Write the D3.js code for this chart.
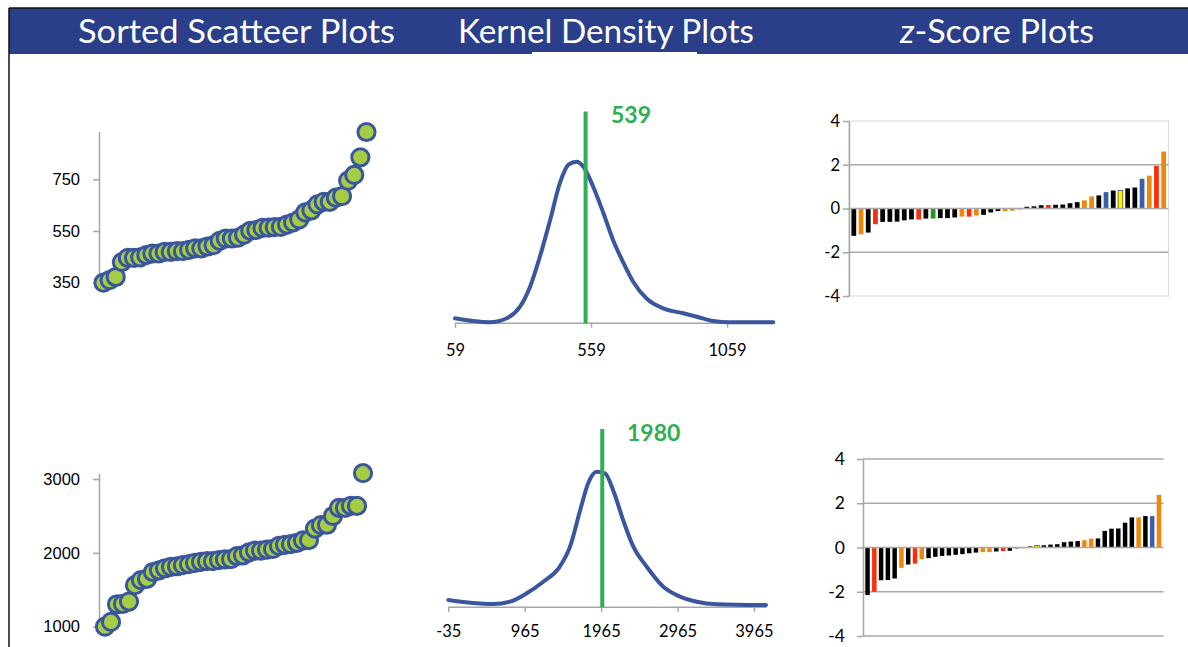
<!DOCTYPE html>
<html>
<head>
<meta charset="utf-8">
<script src="https://cdn.jsdelivr.net/npm/d3@7"></script>
<style>
  body { margin: 0; background: #fff; }
  svg { display: block; }
</style>
</head>
<body>
<svg id="chart" width="1188" height="647"></svg>
<script>
// header titles and where they sit (left edge, width)
const titles = ["Sorted Scatteer Plots", "Kernel Density Plots", "z-Score Plots"];

// sorted scatter values (top = first variable, bottom = second)
const scatterTop = [350,360,372,430,446,446,448,457,463,463,469,469,472,472,477,483,483,490,495,512,
  521,521,524,536,551,554,562,563,565,566,575,583,595,622,630,653,663,663,679,685,745,767,835,933];
const scatterBot = [1000,1065,1304,1309,1341,1562,1631,1649,1741,1764,1792,1810,1819,1833,1847,1865,1879,1888,1888,1902,
  1911,1916,1957,1967,2008,2031,2031,2045,2054,2095,2109,2118,2137,2169,2174,2330,2376,2381,2500,2611,2611,2638,2638,3080];
const scatterTopTicks = [350, 550, 750];
const scatterBotTicks = [1000, 2000, 3000];

// kernel density curves (relative density)
const densTopX = [59,126,188,249,298,335,371,408,445,476,506,531,567,604,641,678,714,764,825,898,948,1009,1070,1229];
const densTopY = [0.022,0.008,0.002,0.022,0.08,0.18,0.33,0.51,0.70,0.79,0.805,0.78,0.68,0.55,0.41,0.30,0.205,0.12,0.072,0.047,0.03,0.008,0.002,0.002];
const densBotX = [-35,249,554,773,991,1208,1405,1558,1689,1798,1907,2016,2125,2256,2387,2562,2779,2954,3216,3478,4123];
const densBotY = [0.034,0.02,0.013,0.025,0.067,0.125,0.19,0.30,0.48,0.62,0.675,0.667,0.58,0.43,0.30,0.20,0.10,0.058,0.025,0.012,0.008];
const densTopTicks = [59, 559, 1059];
const densBotTicks = [-35, 965, 1965, 2965, 3965];
const meanTop = 539;
const meanBot = 1980;

// z-scores and bar colour codes
const zTop = [-1.25,-1.18,-1.1,-0.72,-0.61,-0.61,-0.6,-0.54,-0.5,-0.5,-0.46,-0.46,-0.44,-0.44,-0.41,-0.37,-0.37,-0.32,-0.29,-0.18,
  -0.12,-0.12,-0.1,-0.02,0.08,0.1,0.15,0.16,0.17,0.18,0.24,0.29,0.37,0.55,0.6,0.75,0.82,0.82,0.92,0.96,1.36,1.5,1.95,2.6];
const zTopColors = ["k","o","k","r","k","k","k","k","k","r","k","g","k","k","k","o","r","o","k","k",
  "k","o","o","y","k","k","k","r","k","k","k","k","o","o","k","b","k","y","k","k","b","o","r","o"];
const zBot = [-2.15,-2.0,-1.48,-1.47,-1.4,-0.92,-0.77,-0.73,-0.53,-0.48,-0.42,-0.38,-0.36,-0.33,-0.3,-0.26,-0.23,-0.21,-0.21,-0.18,
  -0.16,-0.15,-0.06,-0.04,0.05,0.1,0.1,0.13,0.15,0.24,0.27,0.29,0.33,0.4,0.41,0.75,0.85,0.86,1.12,1.36,1.36,1.42,1.42,2.38];
const zBotColors = ["k","r","k","k","k","o","k","r","o","k","k","k","k","k","k","k","k","o","o","k",
  "r","k","n","o","k","y","k","k","k","k","k","k","o","o","k","k","k","k","k","k","o","k","b","o"];
const zTicks = [-4, -2, 0, 2, 4];

const palette = {k: "#000000", o: "#f0870a", r: "#fa2d0a", g: "#1e9628", y: "#fff000", b: "#3b5ea6", n: "#8c8c8c"};
const blue = "#3a569e";
const green = "#2fae52";
const axisGray = "#a6a6a6";
const plain = d => String(d);   // keep hyphen minus, no thousands comma

const svg = d3.select("#chart");

/* Header band */
svg.append("rect").attr("x", 9).attr("y", 8).attr("width", 1179).attr("height", 46)
    .attr("fill", "#2a3e8a");
svg.append("line").attr("x1", 9).attr("x2", 1188).attr("y1", 8).attr("y2", 8)
    .attr("stroke", "#111").attr("stroke-width", 1.5);
svg.append("line").attr("x1", 9).attr("x2", 9).attr("y1", 8).attr("y2", 647)
    .attr("stroke", "#111").attr("stroke-width", 1.5);
svg.append("rect").attr("x", 532).attr("y", 52).attr("width", 165).attr("height", 3).attr("fill", "#fff");

const titleBox = [[78, 317], [458, 296], [900, 194]];
titles.forEach((t, i) => {
  const txt = svg.append("text")
      .attr("x", titleBox[i][0]).attr("y", 43)
      .attr("textLength", titleBox[i][1])
      .attr("lengthAdjust", "spacingAndGlyphs")
      .attr("fill", "#fff")
      .style("font-family", "Lato, sans-serif")
      .style("font-size", "33px");
  if (t.startsWith("z-")) {
    txt.append("tspan").style("font-style", "italic").text("z");
    txt.append("tspan").text(t.slice(1));
  } else {
    txt.text(t);
  }
});

function styleAxis(g, font, size) {
  g.select(".domain").attr("stroke", axisGray).attr("stroke-width", 1.5);
  g.selectAll(".tick line").attr("stroke", axisGray).attr("stroke-width", 1.5);
  g.selectAll(".tick text").attr("fill", "#000")
      .style("font-family", font).style("font-size", size);
}

/* Sorted scatter */
function drawScatter(vals, ticks, xr, yDom, yRange) {
  const x = d3.scaleLinear().domain([0, vals.length - 1]).range(xr);
  const y = d3.scaleLinear().domain(yDom).range(yRange);
  const g = svg.append("g").attr("transform", "translate(99,0)")
      .call(d3.axisLeft(y).tickValues(ticks).tickSize(6).tickSizeOuter(0).tickPadding(13).tickFormat(plain));
  styleAxis(g, "Liberation Sans, Arial, sans-serif", "16.5px");
  svg.append("g").selectAll("circle").data(vals).join("circle")
      .attr("cx", (d, i) => x(i))
      .attr("cy", d => y(d))
      .attr("r", 8.6)
      .attr("fill", "#a5cc45")
      .attr("stroke", blue)
      .attr("stroke-width", 3);
}
drawScatter(scatterTop, scatterTopTicks, [103.5, 366.5], [350, 935], [282.7, 131.5]);
drawScatter(scatterBot, scatterBotTicks, [105, 363], [1000, 3077], [626.7, 473.4]);

/* Kernel density */
function drawDensity(xs, ys, ticks, xDom, xRange, yBase, mean, labelPos) {
  const x = d3.scaleLinear().domain(xDom).range(xRange);
  const y = d3.scaleLinear().domain([0, 1]).range([yBase, yBase - 200]);
  const g = svg.append("g").attr("transform", `translate(0,${yBase})`)
      .call(d3.axisBottom(x).tickValues(ticks).tickSize(5).tickSizeOuter(0).tickPadding(labelPos.pad).tickFormat(plain));
  styleAxis(g, "Lato, sans-serif", "16.5px");
  const line = d3.line().x(d => x(d[0])).y(d => y(d[1])).curve(d3.curveMonotoneX);
  svg.append("path").datum(d3.zip(xs, ys))
      .attr("d", line)
      .attr("fill", "none")
      .attr("stroke", blue)
      .attr("stroke-width", 4)
      .attr("stroke-linecap", "round");
  svg.append("line")
      .attr("x1", x(mean)).attr("x2", x(mean))
      .attr("y1", labelPos.lineTop).attr("y2", yBase + 0.5)
      .attr("stroke", green).attr("stroke-width", 4);
  svg.append("text")
      .attr("x", labelPos.x).attr("y", labelPos.y)
      .attr("fill", green)
      .style("font-family", "Lato, sans-serif")
      .style("font-weight", "bold")
      .style("font-size", "23px")
      .text(mean);
}
drawDensity(densTopX, densTopY, densTopTicks, [59, 1229], [455, 773.3], 322.7, meanTop,
  {pad: 17, lineTop: 111.5, x: 611, y: 123});
drawDensity(densBotX, densBotY, densBotTicks, [-35, 4123], [448.3, 766], 606.7, meanBot,
  {pad: 14, lineTop: 429, x: 627, y: 441});

/* z-score bars */
function drawZ(vals, cols, xr, yRange, opts) {
  const x = d3.scaleBand().domain(d3.range(vals.length)).range(xr).padding(0.34);
  const y = d3.scaleLinear().domain([-4, 4]).range(yRange);
  if (opts.frame) {
    svg.append("rect")
        .attr("x", xr[0]).attr("y", y(4))
        .attr("width", xr[1] - xr[0]).attr("height", y(-4) - y(4))
        .attr("fill", "none").attr("stroke", "#dcdcdc").attr("stroke-width", 1.2);
  }
  svg.append("g").selectAll("line").data(opts.grid).join("line")
      .attr("x1", xr[0]).attr("x2", xr[1])
      .attr("y1", d => y(d)).attr("y2", d => y(d))
      .attr("stroke", "#a9a9a9").attr("stroke-width", 1.5);
  svg.append("g").selectAll("rect").data(vals).join("rect")
      .attr("x", (d, i) => x(i))
      .attr("width", x.bandwidth())
      .attr("y", d => y(Math.max(0, d)))
      .attr("height", d => Math.abs(y(d) - y(0)))
      .attr("fill", (d, i) => palette[cols[i]])
      .attr("stroke", (d, i) => cols[i] === "y" ? "#222" : "none")
      .attr("stroke-width", 0.6);
  svg.append("line")
      .attr("x1", xr[0]).attr("x2", xr[1]).attr("y1", y(0)).attr("y2", y(0))
      .attr("stroke", "#a9a9a9").attr("stroke-width", 1.5);
  const g = svg.append("g").attr("transform", `translate(${xr[0]},0)`)
      .call(d3.axisLeft(y).tickValues(zTicks).tickSize(6).tickSizeOuter(0).tickPadding(opts.pad).tickFormat(plain));
  styleAxis(g, "Lato, sans-serif", opts.font);
}
drawZ(zTop, zTopColors, [849, 1168.5], [296, 121], {frame: true, grid: [2, -2], pad: 3, font: "16.5px"});
drawZ(zBot, zBotColors, [863, 1163.5], [636, 459], {frame: false, grid: [4, 2, -2, -4], pad: 12, font: "17.5px"});
</script>
</body>
</html>
